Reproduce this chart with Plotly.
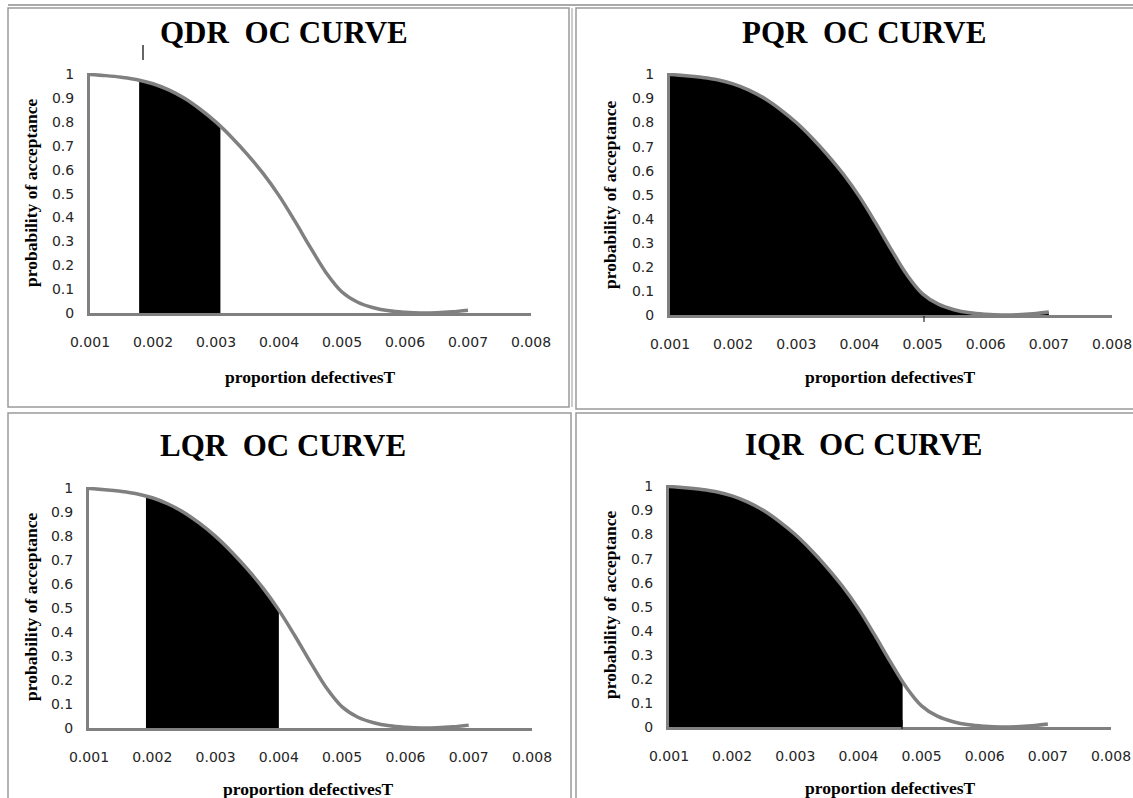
import numpy as np
import plotly.graph_objects as go

# ---------------- data ----------------
proportion_defective = [0.00100, 0.00125, 0.00150, 0.00175, 0.00200, 0.00225, 0.00250,
                        0.00275, 0.00300, 0.00325, 0.00350, 0.00375, 0.00400, 0.00425,
                        0.00450, 0.00475, 0.00500, 0.00525, 0.00550, 0.00575, 0.00600,
                        0.00625, 0.00650, 0.00675, 0.00700]
prob_acceptance = [1.000, 0.995, 0.988, 0.978, 0.961, 0.935, 0.900,
                   0.854, 0.800, 0.736, 0.664, 0.584, 0.492, 0.386,
                   0.274, 0.168, 0.088, 0.045, 0.022, 0.009, 0.003,
                   0.000, 0.001, 0.005, 0.012]

chart_names = ["QDR", "PQR", "LQR", "IQR"]
shade_start = [0.00178, 0.00100, 0.00190, 0.00100]
shade_end = [0.00307, 0.00700, 0.00400, 0.00470]

x_tick_vals = [0.001, 0.002, 0.003, 0.004, 0.005, 0.006, 0.007, 0.008]
x_tick_text = ["0.001", "0.002", "0.003", "0.004", "0.005", "0.006", "0.007", "0.008"]
y_tick_vals = [0, 0.1, 0.2, 0.3, 0.4, 0.5, 0.6, 0.7, 0.8, 0.9, 1.0]
y_tick_text = ["0", "0.1", "0.2", "0.3", "0.4", "0.5", "0.6", "0.7", "0.8", "0.9", "1"]

x_title = "proportion defectivesT"
y_title = "probability of acceptance"

# ---------------- layout helpers ----------------
W, H = 1133, 798


def px(x):
    return x / W


def py(y):
    return 1 - y / H


# plot-area boxes (screen pixels) and text anchor positions for each panel
panel_layout = [
    dict(box=(90, 531, 73, 313), title=(284, 33), ytitle=(31, 193), xtitle=(310, 377)),
    dict(box=(670, 1112, 73, 315), title=(864, 33), ytitle=(610, 195), xtitle=(890, 377)),
    dict(box=(89, 532, 487, 728), title=(283, 445), ytitle=(31, 607), xtitle=(308, 789)),
    dict(box=(669, 1111, 485, 727), title=(863, 444), ytitle=(610, 605), xtitle=(890, 788)),
]

CURVE = "#808080"
TICKFONT = dict(family="DejaVu Sans", size=14, color="#262626")
SERIF = "Liberation Serif"

fig = go.Figure()
xs = np.array(proportion_defective)
ys = np.array(prob_acceptance)

annotations = []
shapes = []

for i, name in enumerate(chart_names):
    k = "" if i == 0 else str(i + 1)
    a, b = shade_start[i], shade_end[i]
    inner = (xs > a) & (xs < b)
    fx = np.concatenate([[a], xs[inner], [b]])
    fy = np.interp(fx, xs, ys)
    fig.add_trace(go.Scatter(
        x=fx, y=fy, mode="lines", fill="tozeroy", fillcolor="black",
        line=dict(width=0, shape="spline", color="black"),
        xaxis="x" + k, yaxis="y" + k, showlegend=False, hoverinfo="skip"))
    fig.add_trace(go.Scatter(
        x=xs, y=ys, mode="lines", line=dict(color=CURVE, width=3.5, shape="spline"),
        xaxis="x" + k, yaxis="y" + k, showlegend=False, name=name))

    L = panel_layout[i]
    x0, x1, y0, y1 = L["box"]
    fig.update_layout(**{
        "xaxis" + k: dict(
            domain=[px(x0), px(x1)], anchor="y" + k, range=[0.001, 0.008],
            tickvals=x_tick_vals, ticktext=x_tick_text, showgrid=False, zeroline=False,
            showline=True, linecolor=CURVE, linewidth=3, ticks="", tickfont=TICKFONT,
            ticklabelstandoff=14, fixedrange=True, automargin=False),
        "yaxis" + k: dict(
            domain=[py(y1), py(y0)], anchor="x" + k, range=[0, 1.006],
            tickvals=y_tick_vals, ticktext=y_tick_text, showgrid=False, zeroline=False,
            showline=True, linecolor=CURVE, linewidth=3, ticks="", tickfont=TICKFONT,
            ticklabelstandoff=10, fixedrange=True, automargin=False),
    })

    annotations.append(dict(
        text="<b>" + name + "\u00a0 OC CURVE</b>", x=px(L["title"][0]), y=py(L["title"][1]),
        xref="paper", yref="paper", xanchor="center", yanchor="middle", showarrow=False,
        font=dict(family=SERIF, size=31, color="black")))
    annotations.append(dict(
        text="<b>" + y_title + "</b>", x=px(L["ytitle"][0]), y=py(L["ytitle"][1]),
        xref="paper", yref="paper", xanchor="center", yanchor="middle", showarrow=False,
        textangle=-90, font=dict(family=SERIF, size=17.5, color="black")))
    annotations.append(dict(
        text="<b>" + x_title + "</b>", x=px(L["xtitle"][0]), y=py(L["xtitle"][1]),
        xref="paper", yref="paper", xanchor="center", yanchor="middle", showarrow=False,
        font=dict(family=SERIF, size=17.5, color="black")))

# panel frames
BORDER = "#9a9a9a"
frames = [(8, 569, 8, 407), (576, 1140, 8, 409), (8, 571, 413, 805), (576, 1140, 413, 805)]
for (fx0, fx1, fy0, fy1) in frames:
    shapes.append(dict(type="rect", xref="paper", yref="paper",
                       x0=px(fx0), x1=px(fx1), y0=py(fy1), y1=py(fy0),
                       line=dict(color=BORDER, width=1.5), layer="below"))
shapes.append(dict(type="line", xref="paper", yref="paper", x0=px(572), x1=px(572),
                   y0=py(8), y1=py(407), line=dict(color=BORDER, width=1)))
shapes.append(dict(type="line", xref="paper", yref="paper", x0=px(8), x1=px(1133),
                   y0=py(5), y1=py(5), line=dict(color="#555555", width=1)))
# stray marks seen in the scanned figure
shapes.append(dict(type="line", xref="paper", yref="paper", x0=px(143), x1=px(143),
                   y0=py(45), y1=py(60), line=dict(color="black", width=1.2)))
shapes.append(dict(type="line", xref="paper", yref="paper", x0=px(924), x1=px(924),
                   y0=py(316), y1=py(322), line=dict(color="black", width=1)))
shapes.append(dict(type="line", xref="paper", yref="paper", x0=px(902), x1=px(902),
                   y0=py(720), y1=py(729), line=dict(color="black", width=1)))

fig.update_layout(
    width=W, height=H, autosize=False,
    margin=dict(l=0, r=0, t=0, b=0, pad=0, autoexpand=False),
    paper_bgcolor="white", plot_bgcolor="white",
    annotations=annotations, shapes=shapes, showlegend=False,
)

fig.write_html(
    "out.html",
    config={"displayModeBar": False, "staticPlot": True},
    post_script="document.body.style.margin='0';document.body.style.overflow='hidden';",
)
